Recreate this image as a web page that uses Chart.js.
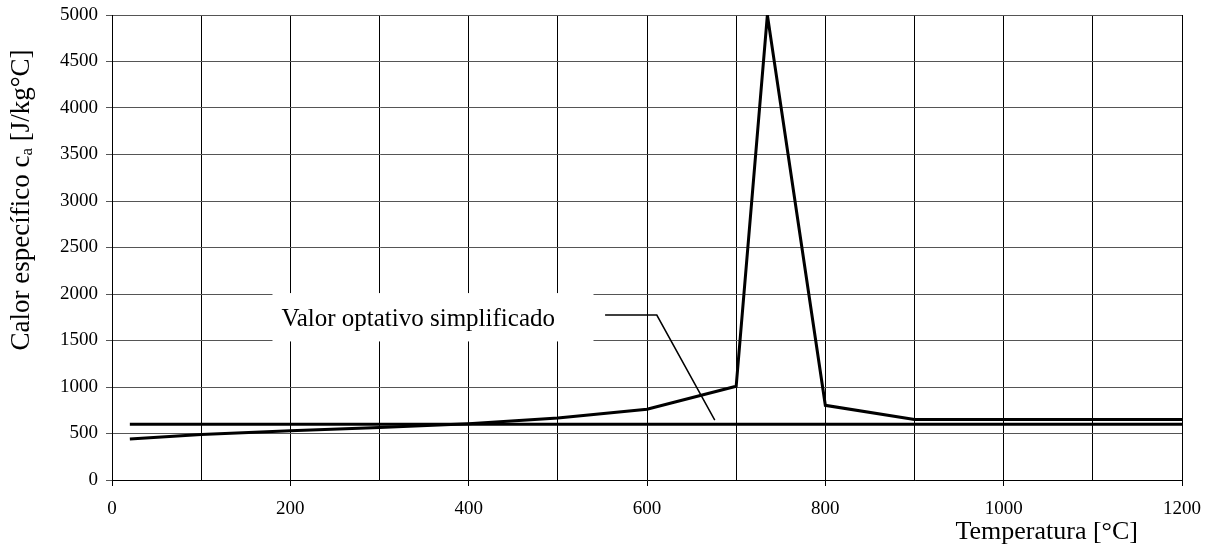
<!DOCTYPE html>
<html>
<head>
<meta charset="utf-8">
<script src="https://cdn.jsdelivr.net/npm/chart.js@4"></script>
<style>
  html, body { margin: 0; padding: 0; background: #fff; }
  canvas { display: block; }
</style>
</head>
<body>
<canvas id="myChart" width="1208" height="558"></canvas>
<script>
  // temperaturas [°C] y calor especifico [J/kg°C]
  let temps = [20, 100, 200, 300, 400, 500, 600, 700, 735, 800, 900, 1200];
  let calor = [440, 488, 530, 565, 606, 667, 760, 1008, 5000, 803, 650, 650];
  let simpTemps = [20, 1200];
  let simpCalor = [600, 600];
  let xTicks = [0, 200, 400, 600, 800, 1000, 1200];
  let yTicks = [0, 500, 1000, 1500, 2000, 2500, 3000, 3500, 4000, 4500, 5000];

  let font = "'Liberation Serif', 'Times New Roman', serif";

  let toPts = (xs, ys) => xs.map((x, i) => ({ x: x, y: ys[i] }));

  // cuadro de texto y linea de referencia
  let annotPlugin = {
    id: 'annot',
    beforeDatasetsDraw(chart) {
      let c = chart.ctx, x = chart.scales.x, y = chart.scales.y;
      c.save();
      c.fillStyle = '#fff';
      let x0 = x.getPixelForValue(180), x1 = x.getPixelForValue(540);
      let y0 = y.getPixelForValue(2010), y1 = y.getPixelForValue(1490);
      c.fillRect(x0, y0, x1 - x0, y1 - y0);
      c.fillStyle = '#000';
      c.font = '25px ' + font;
      c.textBaseline = 'middle';
      c.textAlign = 'left';
      c.fillText('Valor optativo simplificado', x.getPixelForValue(190), y.getPixelForValue(1730));
      c.strokeStyle = '#000';
      c.lineWidth = 1.5;
      c.beginPath();
      c.moveTo(x.getPixelForValue(553), y.getPixelForValue(1774));
      c.lineTo(x.getPixelForValue(611), y.getPixelForValue(1774));
      c.lineTo(x.getPixelForValue(676), y.getPixelForValue(645));
      c.stroke();
      c.restore();
    },
    afterDraw(chart) {
      let c = chart.ctx, a = chart.chartArea;
      c.save();
      c.fillStyle = '#000';
      // titulo eje x
      c.font = '26px ' + font;
      c.textAlign = 'right';
      c.textBaseline = 'middle';
      c.fillText('Temperatura [°C]', a.right - 44, 532);
      // titulo eje y con subindice
      c.translate(22, 200);
      c.rotate(-Math.PI / 2);
      let p1 = 'Calor específico c', sub = 'a', p2 = ' [J/kg°C]';
      c.font = '27px ' + font;
      let w1 = c.measureText(p1).width, w3 = c.measureText(p2).width;
      c.font = '17px ' + font;
      let w2 = c.measureText(sub).width;
      let start = -(w1 + w2 + w3) / 2;
      c.textAlign = 'left';
      c.font = '27px ' + font;
      c.fillText(p1, start, 0);
      c.font = '17px ' + font;
      c.fillText(sub, start + w1, 6);
      c.font = '27px ' + font;
      c.fillText(p2, start + w1 + w2, 0);
      c.restore();
    }
  };

  let myChart = document.getElementById('myChart').getContext('2d');

  let calorChart = new Chart(myChart, {
    type: 'line',
    data: {
      datasets: [{
        label: 'calor',
        data: toPts(temps, calor),
        borderColor: '#000',
        borderWidth: 3,
        pointRadius: 0,
        tension: 0,
        fill: false,
      }, {
        label: 'simplificado',
        data: toPts(simpTemps, simpCalor),
        borderColor: '#000',
        borderWidth: 3,
        pointRadius: 0,
        fill: false,
      }]
    },
    options: {
      responsive: false,
      animation: false,
      devicePixelRatio: 1,
      layout: { padding: { left: 0, right: 26, top: 15, bottom: 0 } },
      plugins: {
        legend: { display: false },
        tooltip: { enabled: false },
      },
      scales: {
        x: {
          type: 'linear',
          min: 0,
          max: 1200,
          afterBuildTicks: s => { s.ticks = [0,100,200,300,400,500,600,700,800,900,1000,1100,1200].map(v => ({ value: v })); },
          afterFit: s => { s.height = 78; s.paddingLeft = 0; s.paddingRight = 0; },
          ticks: {
            color: '#000',
            font: { family: font, size: 19 },
            padding: 12,
            maxRotation: 0,
            autoSkip: false,
            callback: v => xTicks.includes(v) ? String(v) : '',
          },
          grid: {
            color: '#000',
            lineWidth: 1,
            tickLength: 6,
            tickColor: ctx => (ctx.tick && ctx.tick.value % 200 === 0) ? '#000' : 'rgba(0,0,0,0)',
          },
          border: { color: '#000', width: 1 },
        },
        y: {
          min: 0,
          max: 5000,
          afterBuildTicks: s => { s.ticks = yTicks.map(v => ({ value: v })); },
          afterFit: s => { s.width = 112; s.paddingTop = 0; s.paddingBottom = 0; },
          ticks: {
            color: '#000',
            font: { family: font, size: 19 },
            padding: 8,
            autoSkip: false,
            callback: v => String(v),
          },
          grid: {
            color: '#555',
            lineWidth: 1,
            tickLength: 6,
            tickColor: '#555',
          },
          border: { color: '#000', width: 1 },
        }
      }
    },
    plugins: [annotPlugin]
  });
</script>
</body>
</html>
